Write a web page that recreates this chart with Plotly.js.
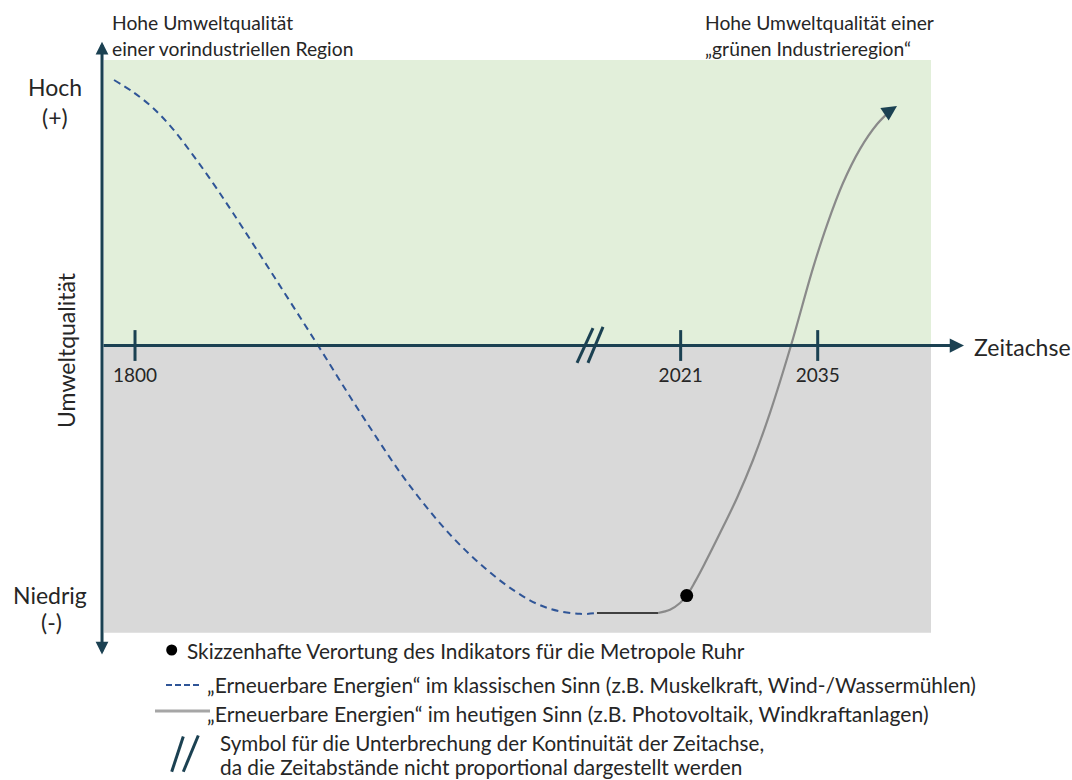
<!DOCTYPE html>
<html><head><meta charset="utf-8">
<script src="https://cdn.plot.ly/plotly-3.0.1.min.js"></script>
<style>html,body{margin:0;padding:0;background:#fff}#chart{width:1072px;height:780px}</style>
</head><body><div id="chart"></div>
<script>
// ---- data (conceptual units: time position 0..100, environmental quality -1..1) ----
const classicX = [1.21, 3.51, 5.93, 8.34, 10.76, 13.18, 15.60, 20.44, 25.88, 31.32, 37.36, 43.41, 49.46, 53.57, 57.56, 59.61];
const classicY = [0.930, 0.888, 0.832, 0.758, 0.667, 0.569, 0.464, 0.247, 0, -0.250, -0.506, -0.709, -0.856, -0.919, -0.940, -0.937];
const flatX = [59.61, 62.39, 65.42, 66.99];
const flatY = [-0.937, -0.937, -0.937, -0.937];
const todayX = [66.99, 68.44, 69.65, 70.46, 71.46, 72.67, 74.49, 76.54, 78.48, 80.53, 83.07, 85.73, 87.42, 89.36, 91.41, 93.47, 95.04];
const todayY = [-0.937, -0.926, -0.902, -0.876, -0.828, -0.762, -0.657, -0.534, -0.401, -0.236, 0, 0.271, 0.422, 0.569, 0.688, 0.775, 0.821];
const ruhrX = [70.46];
const ruhrY = [-0.876];
const tickPos = [3.75, 69.73, 86.30];
const tickLabels = ['1800', '2021', '2035'];
const breakPos = 58.8;

// ---- style ----
const FONT = "Lato, 'Open Sans', sans-serif";
const TXT = '#262626';
const AX = '#1b4152';
const W = 1072, H = 780;
const px = v => v / W, py = v => 1 - v / H;

const traces = [
  {x: classicX, y: classicY, mode: 'lines', line: {color: '#2f5597', width: 2, dash: '7px,5px', shape: 'spline', smoothing: 1}, hoverinfo: 'skip'},
  {x: flatX, y: flatY, mode: 'lines', line: {color: '#404040', width: 2}, hoverinfo: 'skip'},
  {x: todayX, y: todayY, mode: 'lines', line: {color: '#8a8a8a', width: 2.2, shape: 'spline', smoothing: 1}, hoverinfo: 'skip'},
  {x: tickPos, y: tickPos.map(() => 0), mode: 'markers', marker: {symbol: 'line-ns', size: 22, line: {color: AX, width: 3}}, hoverinfo: 'skip'},
  {x: ruhrX, y: ruhrY, mode: 'markers', marker: {color: '#000', size: 13}, hoverinfo: 'skip'}
];

function T(text, x, y, size, anchor, extra) {
  return Object.assign({text: text, x: px(x), y: py(y), xref: 'paper', yref: 'paper', showarrow: false,
    xanchor: anchor, yanchor: 'middle', font: {family: FONT, size: size, color: TXT, weight: 400}}, extra || {});
}

const annotations = [
  T('Hohe Umweltqualität', 110, 22, 19.3, 'left'),
  T('einer vorindustriellen Region', 110, 48, 19.3, 'left'),
  T('Hohe Umweltqualität einer', 703, 22, 19.3, 'left'),
  T('„grünen Industrieregion“', 703, 48, 19.3, 'left'),
  T('Hoch', 55, 87, 23, 'center'),
  T('(+)', 55, 117, 23, 'center'),
  T('Niedrig', 50, 595, 23, 'center'),
  T('(-)', 51, 622, 23, 'center'),
  T('Umweltqualität', 66, 350, 23, 'center', {textangle: -90}),
  T('Zeitachse', 972, 347, 23, 'left'),
  T('Skizzenhafte Verortung des Indikators für die Metropole Ruhr', 185, 650, 20.8, 'left'),
  T('„Erneuerbare Energien“ im klassischen Sinn (z.B. Muskelkraft, Wind-/Wassermühlen)', 205, 684, 20.9, 'left'),
  T('„Erneuerbare Energien“ im heutigen Sinn (z.B. Photovoltaik, Windkraftanlagen)', 205, 713, 21.1, 'left'),
  T('Symbol für die Unterbrechung der Kontinuität der Zeitachse,', 218, 743, 20.6, 'left'),
  T('da die Zeitabstände nicht proportional dargestellt werden', 218, 766, 20.8, 'left'),
  // vertical axis with arrows both ends
  {x: -0.24, y: 1.064, ax: -0.24, ay: -1.088, xref: 'x', yref: 'y', axref: 'x', ayref: 'y', text: '',
   showarrow: true, arrowside: 'end+start', arrowhead: 2, startarrowhead: 2, arrowsize: 0.85, startarrowsize: 0.85,
   arrowwidth: 3, arrowcolor: AX},
  // horizontal time axis
  {x: 103.99, y: 0, ax: -0.24, ay: 0, xref: 'x', yref: 'y', axref: 'x', ayref: 'y', text: '',
   showarrow: true, arrowhead: 2, arrowsize: 0.95, arrowwidth: 3, arrowcolor: AX},
  // arrow at end of today's curve
  {x: 95.89, y: 0.839, ax: 94.80, ay: 0.818, xref: 'x', yref: 'y', axref: 'x', ayref: 'y', text: '',
   showarrow: true, arrowhead: 2, arrowsize: 1.5, arrowwidth: 2, arrowcolor: AX}
];

const shapes = [
  {type: 'rect', xref: 'x', yref: 'y', x0: 0, x1: 100, y0: 0, y1: 1, fillcolor: '#e2efda', line: {width: 0}, layer: 'below'},
  {type: 'rect', xref: 'x', yref: 'y', x0: 0, x1: 100, y0: -1.006, y1: 0, fillcolor: '#d9d9d9', line: {width: 0}, layer: 'below'},
  // break symbol on the axis
  {type: 'line', xref: 'x', yref: 'y', x0: breakPos - 1.6, y0: -0.061, x1: breakPos + 0.33, y1: 0.061, line: {color: AX, width: 3}},
  {type: 'line', xref: 'x', yref: 'y', x0: breakPos - 0.28, y0: -0.061, x1: breakPos + 1.54, y1: 0.065, line: {color: AX, width: 3}},
  // legend: dot
  {type: 'circle', xref: 'paper', yref: 'paper', x0: px(166.2), x1: px(177.2), y0: py(655.5), y1: py(644.5), fillcolor: '#000', line: {width: 0}},
  // legend: dashed line
  {type: 'line', xref: 'paper', yref: 'paper', x0: px(166), x1: px(201), y0: py(685), y1: py(685), line: {color: '#2f5597', width: 2, dash: '6px,3px'}},
  // legend: grey line
  {type: 'line', xref: 'paper', yref: 'paper', x0: px(155), x1: px(210), y0: py(711), y1: py(711), line: {color: '#a6a6a6', width: 3}},
  // legend: break symbol
  {type: 'line', xref: 'paper', yref: 'paper', x0: px(171.7), y0: py(771.7), x1: px(183.3), y1: py(736.5), line: {color: AX, width: 3}},
  {type: 'line', xref: 'paper', yref: 'paper', x0: px(183.3), y0: py(771.7), x1: px(198.3), y1: py(735.5), line: {color: AX, width: 3}}
];

const layout = {
  width: W, height: H,
  margin: {l: 0, r: 0, t: 0, b: 0, pad: 0},
  paper_bgcolor: '#ffffff', plot_bgcolor: '#ffffff',
  showlegend: false,
  xaxis: {range: [-12.5756, 117.050], showgrid: false, zeroline: false, showline: false,
    anchor: 'free', position: 0.5571, side: 'bottom', automargin: false, fixedrange: true,
    tickmode: 'array', tickvals: tickPos, ticktext: tickLabels,
    ticks: 'outside', ticklen: 12, tickcolor: 'rgba(0,0,0,0)', ticklabelstandoff: 1,
    tickfont: {family: FONT, size: 19, color: TXT, weight: 400}},
  yaxis: {range: [-1.5219, 1.2102], visible: false, fixedrange: true},
  shapes: shapes,
  annotations: annotations
};

Plotly.newPlot('chart', traces, layout, {displayModeBar: false, staticPlot: true});
</script>
</body></html>
